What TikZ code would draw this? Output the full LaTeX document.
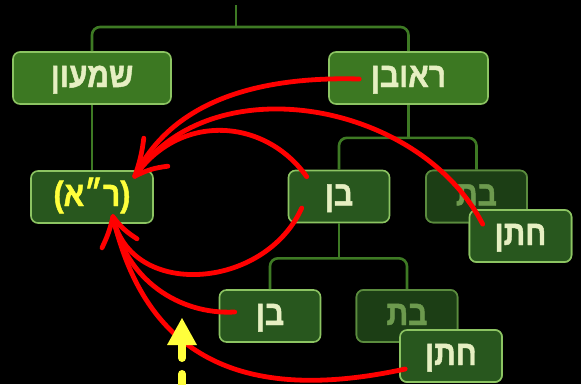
\documentclass[tikz,border=0pt]{standalone}
\usepackage{fontspec}
\usetikzlibrary{calc}
\TeXXeTstate=1
\newfontfamily\hebfont[Script=Hebrew,FakeBold=1.3,FakeStretch=0.86]{Liberation Sans Bold}
\newfontfamily\latfont[FakeBold=1.3,FakeStretch=0.86]{Liberation Sans Bold}
\newcommand\hebbox{\hebfont\fontsize{35}{38}\selectfont}
\newcommand\heb[1]{\beginR #1\endR}
\definecolor{mainfill}{HTML}{3C7822}
\definecolor{midfill}{HTML}{28571E}
\definecolor{batfill}{HTML}{1C3E15}
\definecolor{boxedge}{HTML}{8CC462}
\definecolor{batedge}{HTML}{5B8C3E}
\definecolor{cream}{HTML}{E6EFC2}
\definecolor{battext}{HTML}{6D9A4E}
\definecolor{treegreen}{HTML}{3E7A24}
\definecolor{arrowred}{HTML}{FF0000}
\definecolor{arrowyellow}{HTML}{FFFF3C}
\begin{document}
\begin{tikzpicture}[x=1pt,y=-1pt,
  box/.style={rounded corners=7pt, line width=1.6pt, minimum height=52pt, inner sep=0pt,
    font=\hebbox, text height=18pt, text depth=0pt},
  mainbox/.style={box, fill=mainfill, draw=boxedge, text=cream},
  midbox/.style={box, fill=midfill, draw=boxedge, text=cream},
  batbox/.style={box, fill=batfill, draw=batedge, text=battext},
  tree/.style={draw=treegreen, line width=2.6pt, rounded corners=8pt},
  redline/.style={draw=arrowred, line width=4.8pt, line cap=round, line join=round},
]
\useasboundingbox (0,0) rectangle (581,384);
\fill[black] (0,0) rectangle (581,384);
\clip (0,0) rectangle (581,384);

% nodes
\node[mainbox, minimum width=158pt] (shimon) at (92,78) {\heb{שמעון}};
\node[mainbox, minimum width=159pt] (reuven) at (408.5,78) {\heb{ראובן}};
\node[midbox, minimum width=122pt, text=arrowyellow] (ra) at (92,197) {{\latfont(}\heb{ר״א}{\latfont)}};
\node[midbox, minimum width=101pt] (ben1) at (339,196.5) {\heb{בן}};
\node[batbox, minimum width=101pt] (bat1) at (476.5,196.5) {\heb{בת}};
\node[midbox, minimum width=102pt] (hatan1) at (520.5,236) {\heb{חתן}};
\node[midbox, minimum width=101pt] (ben2) at (270,316) {\heb{בן}};
\node[batbox, minimum width=101pt] (bat2) at (407,316) {\heb{בת}};
\node[midbox, minimum width=102pt] (hatan2) at (451,356) {\heb{חתן}};

% tree connectors
\coordinate (j0) at (236,27);
\coordinate (stem) at (236,5);
\coordinate (j1) at ($(reuven.south)+(0,33)$);
\coordinate (j2) at ($(ben1.south)+(0,35)$);
\draw[tree] (shimon.north) |- (j0) -| (reuven.north);
\draw[tree] (j0) -- (stem);
\draw[tree] (shimon.south) -- (ra.north);
\draw[tree] (reuven.south) -- (j1);
\draw[tree] (ben1.north) |- (j1) -| (bat1.north);
\draw[tree] (ben1.south) -- (j2);
\draw[tree] (ben2.north) |- (j2) -| (bat2.north);

% redraw boxes that overlap
\node[batbox, minimum width=101pt] at (bat1) {\heb{בת}};
\node[midbox, minimum width=102pt] at (hatan1) {\heb{חתן}};
\node[batbox, minimum width=101pt] at (bat2) {\heb{בת}};
\node[midbox, minimum width=102pt] at (hatan2) {\heb{חתן}};

% red arrows
\coordinate (t1) at ($(ra.north east)+(-19,6)$);
\coordinate (t2) at ($(ra.south)+(21,-7)$);
\coordinate (s1) at ($(reuven.west)+(31,1)$);
\coordinate (s2) at ($(hatan1.north west)+(14,15)$);
\coordinate (s3) at ($(ben1.north west)+(19,7)$);
\coordinate (s4) at ($(ben1.west)+(14,11.5)$);
\coordinate (s5) at ($(ben2.west)+(16,-4)$);
\coordinate (s6) at ($(hatan2.west)+(6,13)$);

\draw[redline] (s1) .. controls (250,76) and (170,105) .. (t1);
\draw[redline] (s2) .. controls (420,102) and (211,63) .. (t1);
\draw[redline] (s3) .. controls (265,118) and (180,112) .. (t1);
\draw[redline] ($(t1)+(9,-38)$) to[bend left=6] (t1) to[bend left=10] ($(t1)+(33,-10)$);

\draw[redline] (s4) .. controls (265,290) and (130,300) .. (t2);
\draw[redline] (s5) .. controls (180,315) and (125,280) .. (t2);
\draw[redline] (s6) .. controls (240,405) and (145,355) .. (t2);
\draw[redline] ($(t2)+(-11,31)$) to[bend right=6] (t2) to[bend right=10] ($(t2)+(24,22)$);

% yellow arrow
\coordinate (ytip) at (182,318);
\coordinate (yfoot) at (182,400);
\fill[arrowyellow] (ytip) -- ($(ytip)+(15,27)$) -- ($(ytip)+(-15,27)$) -- cycle;
\draw[arrowyellow, line width=8pt, line cap=round, dash pattern=on 13pt off 16pt] ($(ytip)+(0,27)$) -- (yfoot);
\end{tikzpicture}
\end{document}
